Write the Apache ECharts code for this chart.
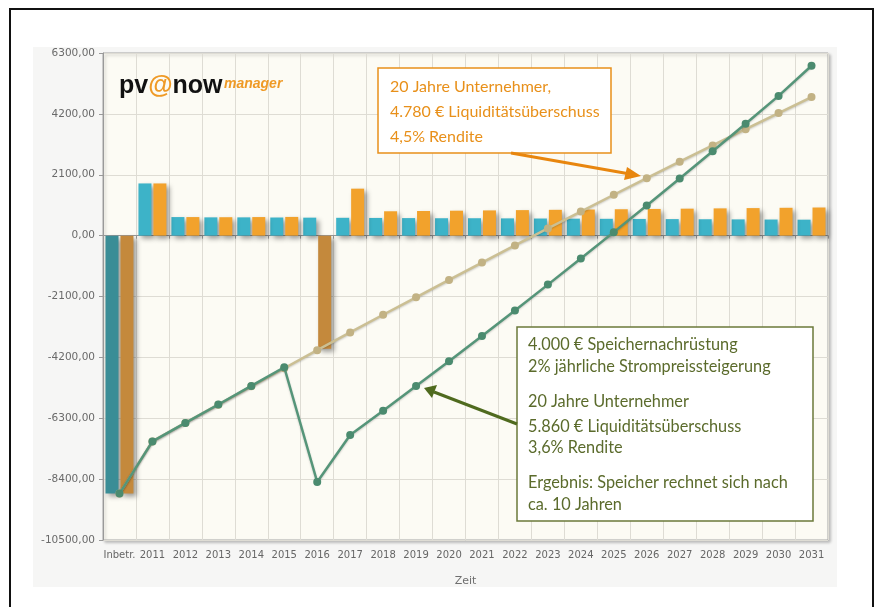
<!DOCTYPE html>
<html>
<head>
<meta charset="utf-8">
<script src="https://cdn.jsdelivr.net/npm/echarts@6/dist/echarts.min.js"></script>
<style>
html,body{margin:0;padding:0;background:#fff;}
#chart{width:877px;height:607px;}
</style>
</head>
<body>
<div id="chart"></div>
<script>
const categories = ['Inbetr.','2011','2012','2013','2014','2015','2016','2017','2018','2019','2020','2021','2022','2023','2024','2025','2026','2027','2028','2029','2030','2031'];
const tealBars   = [-8900, 1800, 640, 630, 630, 625, 620, 615, 610, 605, 600, 600, 595, 590, 585, 580, 575, 570, 565, 560, 555, 550];
const orangeBars = [-8900, 1800, 640, 635, 640, 645, -3900, 1620, 840, 850, 860, 870, 880, 890, 900, 910, 920, 930, 940, 950, 960, 970];
const tanLine    = [-8900, -7100, -6460, -5830, -5200, -4575, -3950, -3340, -2730, -2130, -1530, -930, -340, 250, 830, 1410, 1980, 2550, 3110, 3670, 4230, 4780];
const greenLine  = [-8900, -7100, -6460, -5825, -5185, -4540, -8500, -6880, -6040, -5190, -4330, -3460, -2580, -1690, -790, 120, 1040, 1970, 2910, 3860, 4820, 5860];
const yMin = -10500, yMax = 6300, yInterval = 2100;
const xAxisName = 'Zeit';
const noteOrange = ['20 Jahre Unternehmer,', '4.780 € Liquiditätsüberschuss', '4,5% Rendite'];
const noteGreen = ['4.000 € Speichernachrüstung', '2% jährliche Strompreissteigerung', '20 Jahre Unternehmer', '5.860 € Liquiditätsüberschuss', '3,6% Rendite', 'Ergebnis: Speicher rechnet sich nach', 'ca. 10 Jahren'];

const tealPos = '#3db3c8', tealNeg = '#3a8d96';
const orangePos = '#f2a22c', orangeNeg = '#c4893c';
const barShadow = {shadowColor:'rgba(0,0,0,0.38)', shadowBlur:5, shadowOffsetX:3, shadowOffsetY:3};

const chart = echarts.init(document.getElementById('chart'), null, {renderer:'canvas'});
const noteFont = 'Lato, "Noto Sans", sans-serif';
const greenY = [345, 367, 402, 427, 448, 483, 505];
const orangeY = [87, 112, 137];

const graphics = [
  {type:'rect', z:-100, silent:true, shape:{x:10, y:9, width:863, height:610}, style:{fill:'#fff', stroke:'#111', lineWidth:2}},
  {type:'rect', z:-99, silent:true, shape:{x:33, y:47, width:804, height:540}, style:{fill:'#f6f6f5'}},
  {type:'text', z:50, style:{x:119, y:86, text:'{a|pv}{b|@}{a|now}', verticalAlign:'middle', align:'left',
     rich:{a:{font:'bold 25px "Liberation Sans", Arial, sans-serif', fill:'#111'}, b:{font:'bold 25px "Liberation Sans", Arial, sans-serif', fill:'#ef9a26'}}}},
  {type:'text', z:50, style:{x:224, y:84, text:'manager', verticalAlign:'middle', align:'left', font:'italic bold 14px "Liberation Sans", Arial, sans-serif', fill:'#ef9a26'}},
  {type:'rect', z:50, shape:{x:378, y:68, width:233, height:85}, style:{fill:'#fff', stroke:'#e8901a', lineWidth:1.5}},
  {type:'rect', z:50, shape:{x:517, y:327, width:296, height:194}, style:{fill:'#fff', stroke:'#6b7a3a', lineWidth:1.5}},
  {type:'line', z:51, shape:{x1:511, y1:153, x2:630, y2:174}, style:{stroke:'#e8860e', lineWidth:3}},
  {type:'polygon', z:51, shape:{points:[[641,176],[627,167],[624,180]]}, style:{fill:'#e8860e'}},
  {type:'line', z:51, shape:{x1:517, y1:424, x2:434, y2:392}, style:{stroke:'#4f6a1e', lineWidth:3}},
  {type:'polygon', z:51, shape:{points:[[424,388],[437,385],[432,398]]}, style:{fill:'#4f6a1e'}}
];
noteOrange.forEach((t,i)=>graphics.push({type:'text', z:52, style:{x:390, y:orangeY[i], text:t, verticalAlign:'middle', align:'left', font:'16px '+noteFont, fill:'#e8901a'}}));
noteGreen.forEach((t,i)=>graphics.push({type:'text', z:52, style:{x:528, y:greenY[i], text:t, verticalAlign:'middle', align:'left', font:'16.3px '+noteFont, fill:'#5b6b2c'}}));

chart.setOption({
  animation:false,
  grid:{left:103, right:49, top:53, bottom:67, show:true, backgroundColor:'#fcfbf4', borderColor:'#a9a9a9', borderWidth:1,
        shadowColor:'rgba(0,0,0,0.25)', shadowBlur:3, shadowOffsetX:2, shadowOffsetY:2},
  xAxis:{type:'category', data:categories, boundaryGap:true,
    name:xAxisName, nameLocation:'middle', nameGap:36, nameTextStyle:{color:'#6f6f6f', fontSize:11, fontFamily:'DejaVu Sans'},
    axisLine:{lineStyle:{color:'#999'}}, axisTick:{show:true, alignWithLabel:false, length:3, lineStyle:{color:'#999'}},
    axisLabel:{interval:0, color:'#666', fontSize:10, fontFamily:'DejaVu Sans', margin:10},
    splitLine:{show:true, lineStyle:{color:'#dedcd4'}}},
  yAxis:{type:'value', min:yMin, max:yMax, interval:yInterval,
    axisLine:{show:true, lineStyle:{color:'#999'}}, axisTick:{show:true, length:4, lineStyle:{color:'#999'}},
    axisLabel:{color:'#6a6a6a', fontSize:10.5, fontFamily:'DejaVu Sans', margin:8, formatter:v=>v.toFixed(2).replace('.', ',')},
    splitLine:{show:true, lineStyle:{color:'#dedcd4'}}},
  series:[
    {type:'bar', barWidth:13, barGap:'15%', z:2, data:tealBars.map(v=>({value:v, itemStyle:{color: v<0?tealNeg:tealPos}})), itemStyle:barShadow},
    {type:'bar', barWidth:13, barGap:'15%', z:2, data:orangeBars.map(v=>({value:v, itemStyle:{color: v<0?orangeNeg:orangePos}})), itemStyle:barShadow},
    {type:'line', z:5, data:tanLine, symbol:'circle', symbolSize:8, lineStyle:{color:'#cbbf93', width:2.5, shadowColor:'rgba(0,0,0,0.2)', shadowBlur:2, shadowOffsetY:1}, itemStyle:{color:'#c2b284'}},
    {type:'line', z:6, data:greenLine, symbol:'circle', symbolSize:8, lineStyle:{color:'#559579', width:2.5, shadowColor:'rgba(0,0,0,0.2)', shadowBlur:2, shadowOffsetY:1}, itemStyle:{color:'#4b8b6f'}}
  ],
  graphic:graphics
});
</script>
</body>
</html>
